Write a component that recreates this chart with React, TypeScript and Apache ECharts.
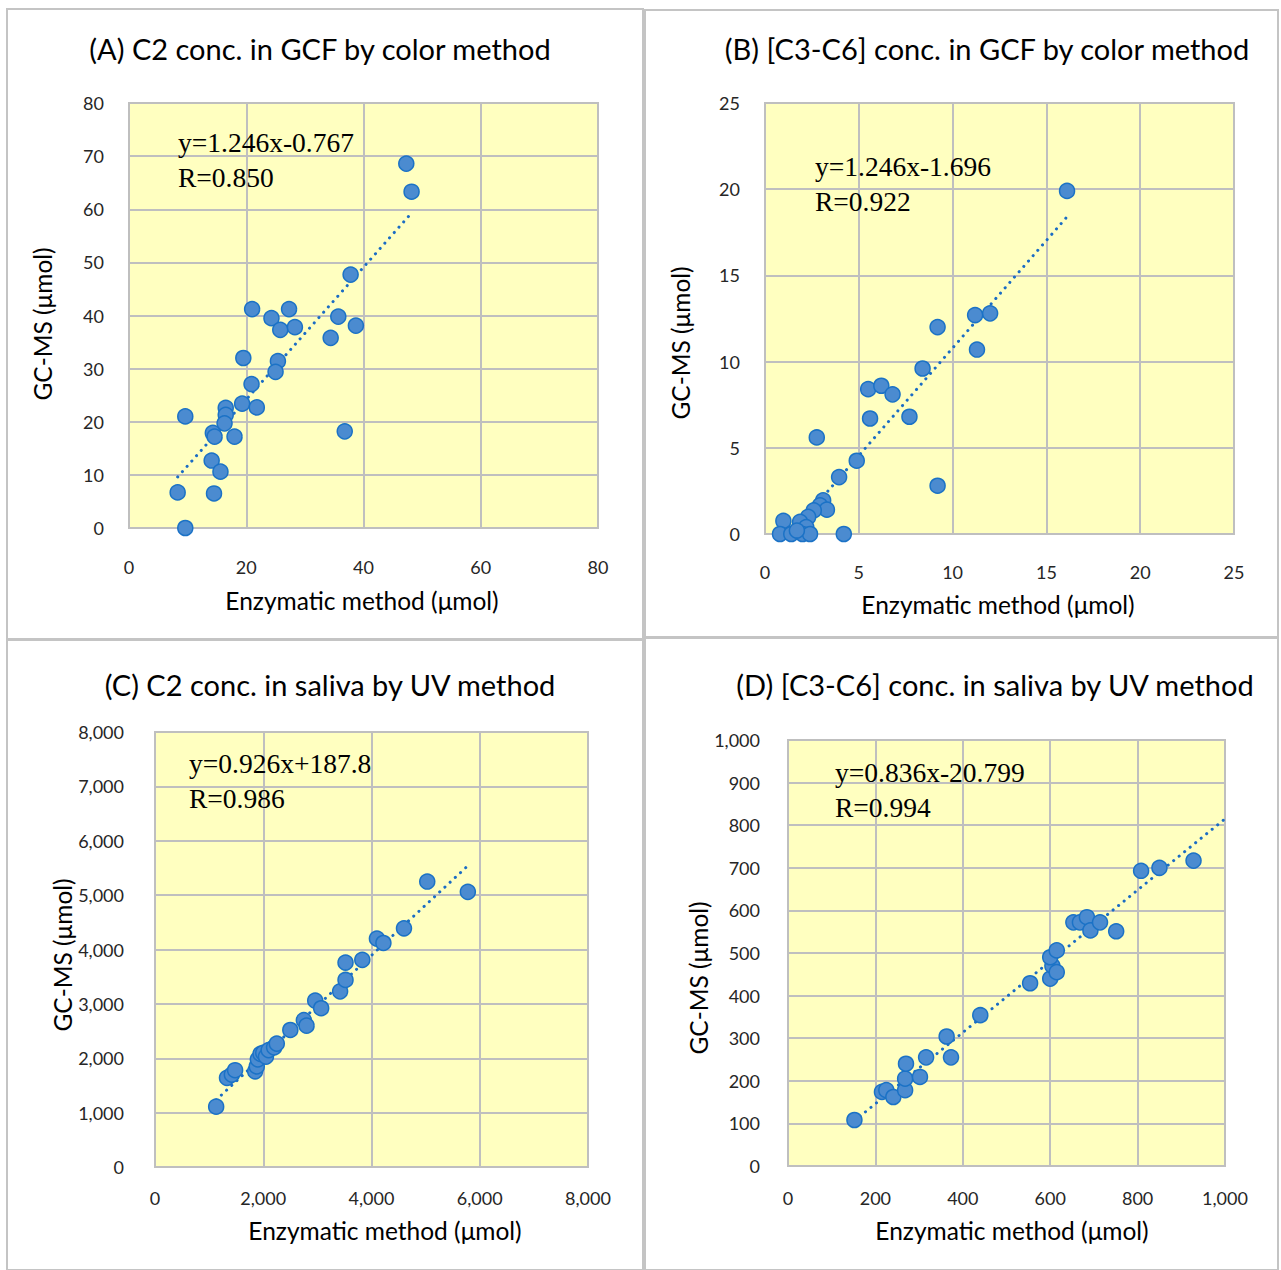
import React, { useEffect, useRef } from "react";
import * as echarts from "echarts";

// ---- Panel A: C2 conc. in GCF by color method ----
const aEnzymatic = [47.3, 48.2, 37.8, 21.0, 24.3, 27.3, 25.8, 28.3, 35.7, 38.7, 34.4, 19.5, 25.4, 25.0, 20.9, 19.3, 21.8, 16.5, 16.5, 16.3, 9.6, 14.3, 14.6, 18.0, 36.8, 14.1, 15.6, 8.3, 14.5, 9.6];
const aGcms = [68.6, 63.3, 47.7, 41.2, 39.5, 41.2, 37.3, 37.8, 39.8, 38.1, 35.8, 32.0, 31.4, 29.4, 27.1, 23.4, 22.7, 22.6, 21.3, 19.7, 21.0, 17.9, 17.2, 17.2, 18.2, 12.7, 10.6, 6.7, 6.5, 0];
const aTrend = [[8.3, 9.6], [48.2, 59.3]];

// ---- Panel B: [C3-C6] conc. in GCF by color method ----
const bEnzymatic = [16.1, 11.2, 12.0, 9.2, 11.3, 8.4, 5.5, 6.2, 6.8, 5.6, 7.7, 9.2, 2.76, 4.89, 3.95, 3.1, 2.93, 3.3, 2.6, 2.3, 1.87, 0.98, 2.2, 0.8, 1.4, 2.0, 2.4, 1.7, 4.2];
const bGcms = [19.9, 12.7, 12.8, 12.0, 10.7, 9.6, 8.4, 8.6, 8.1, 6.7, 6.8, 2.8, 5.6, 4.25, 3.3, 1.95, 1.66, 1.41, 1.37, 0.99, 0.7, 0.76, 0.4, 0, 0, 0, 0, 0.2, 0];
const bTrend = [[1.36, 0], [16.1, 18.4]];

// ---- Panel C: C2 conc. in saliva by UV method ----
const cEnzymatic = [1130, 1330, 1420, 1480, 1850, 1880, 1900, 1950, 2000, 2050, 2100, 2200, 2250, 2500, 2750, 2800, 2960, 3070, 3420, 3520, 3520, 3830, 4100, 4220, 4600, 5030, 5780];
const cGcms = [1110, 1640, 1700, 1780, 1760, 1850, 1980, 2080, 2100, 2030, 2150, 2200, 2270, 2520, 2700, 2600, 3060, 2920, 3230, 3440, 3760, 3810, 4200, 4120, 4390, 5250, 5060];
const cTrend = [[1130, 1234], [5780, 5540]];

// ---- Panel D: [C3-C6] conc. in saliva by UV method ----
const dEnzymatic = [152, 215, 225, 241, 268, 268, 270, 302, 316, 363, 373, 440, 554, 600, 605, 615, 600, 615, 653, 668, 684, 692, 714, 751, 808, 850, 928];
const dGcms = [108, 174, 178, 162, 178, 205, 240, 209, 255, 304, 255, 354, 429, 440, 470, 455, 490, 506, 572, 572, 584, 553, 572, 551, 693, 700, 717];
const dTrend = [[152, 106], [1000, 815]];

const titles = [
  "(A) C2 conc. in GCF by color method",
  "(B) [C3-C6] conc. in GCF by color method",
  "(C) C2 conc. in saliva by UV method",
  "(D) [C3-C6] conc. in saliva by UV method",
];
const equations = [
  ["y=1.246x-0.767", "R=0.850"],
  ["y=1.246x-1.696", "R=0.922"],
  ["y=0.926x+187.8", "R=0.986"],
  ["y=0.836x-20.799", "R=0.994"],
];
const xAxisName = "Enzymatic method (μmol)";
const yAxisName = "GC-MS (μmol)";

const SANS = "Lato, 'Open Sans', sans-serif";
const SERIF = "'Liberation Serif', 'DejaVu Serif', serif";
const GRID_COLOR = "#bfbfbf";
const MARK_FILL = "#4b8bd0";
const MARK_EDGE = "#1b72c6";
const TREND = "#1a6cc4";

const panels = [
  { grid: { left: 129, top: 103, width: 469, height: 425 }, x: [0, 80, 20], y: [0, 80, 10], xm: 30, ym: 25, fmt: false,
    title: [320, 48], xname: [362, 600], yname: [42, 324], eq: [178, 142],
    xs: aEnzymatic, ys: aGcms, tr: aTrend },
  { grid: { left: 765, top: 103, width: 469, height: 431 }, x: [0, 25, 5], y: [0, 25, 5], xm: 29, ym: 25, fmt: false,
    title: [987, 48], xname: [998, 604], yname: [680, 343], eq: [815, 166],
    xs: bEnzymatic, ys: bGcms, tr: bTrend },
  { grid: { left: 155, top: 732, width: 433, height: 435 }, x: [0, 8000, 2000], y: [0, 8000, 1000], xm: 22, ym: 31, fmt: true,
    title: [330, 684], xname: [385, 1230], yname: [62, 955], eq: [189, 763],
    xs: cEnzymatic, ys: cGcms, tr: cTrend },
  { grid: { left: 788, top: 740, width: 437, height: 426 }, x: [0, 1000, 200], y: [0, 1000, 100], xm: 23, ym: 28, fmt: true,
    title: [995, 684], xname: [1012, 1230], yname: [698, 978], eq: [835, 772],
    xs: dEnzymatic, ys: dGcms, tr: dTrend },
];

const fmtNum = (v: number) => v.toLocaleString("en-US");

export default function App() {
  const ref = useRef<HTMLDivElement>(null);
  useEffect(() => {
    if (!ref.current) return;
    const chart = echarts.init(ref.current, undefined, { renderer: "svg" });

    const grids: any[] = [];
    const xAxes: any[] = [];
    const yAxes: any[] = [];
    const series: any[] = [];
    const graphic: any[] = [];

    // panel borders
    const boxes = [
      [7, 9, 636, 630],
      [645, 10, 633, 627],
      [7, 640, 636, 630],
      [645, 638, 633, 632],
    ];
    boxes.forEach(([x, y, w, h]) => {
      graphic.push({ type: "rect", shape: { x, y, width: w, height: h }, style: { fill: "none", stroke: "#c4c4c4", lineWidth: 2 }, silent: true });
    });

    panels.forEach((p, i) => {
      grids.push({ ...p.grid, show: true, backgroundColor: "#ffffc0", borderColor: GRID_COLOR, borderWidth: 2 });
      const labelStyle = (m: number) => ({
        margin: m, color: "#262626", fontSize: 18, fontFamily: SANS,
        formatter: p.fmt ? (v: number) => fmtNum(v) : undefined,
      });
      xAxes.push({
        type: "value", gridIndex: i, min: p.x[0], max: p.x[1], interval: p.x[2],
        axisLine: { show: false }, axisTick: { show: false },
        axisLabel: labelStyle(p.xm),
        splitLine: { show: true, lineStyle: { color: GRID_COLOR, width: 2 } },
      });
      yAxes.push({
        type: "value", gridIndex: i, min: p.y[0], max: p.y[1], interval: p.y[2],
        axisLine: { show: false }, axisTick: { show: false },
        axisLabel: labelStyle(p.ym),
        splitLine: { show: true, lineStyle: { color: GRID_COLOR, width: 2 } },
      });
      series.push({
        type: "line", xAxisIndex: i, yAxisIndex: i, data: p.tr, symbol: "none", clip: true,
        lineStyle: { color: TREND, width: 3, type: [0.1, 7], cap: "round" }, z: 3,
      });
      series.push({
        type: "scatter", xAxisIndex: i, yAxisIndex: i,
        data: p.xs.map((x, k) => [x, p.ys[k]]),
        symbolSize: 15,
        itemStyle: { color: MARK_FILL, borderColor: MARK_EDGE, borderWidth: 1.5, opacity: 1 },
        z: 4,
      });
      graphic.push({
        type: "text", x: p.title[0], y: p.title[1],
        style: { text: titles[i], fontSize: 29, fontFamily: SANS, fill: "#000", align: "center", verticalAlign: "middle" },
      });
      graphic.push({
        type: "text", x: p.xname[0], y: p.xname[1],
        style: { text: xAxisName, fontSize: 24.5, fontFamily: SANS, fill: "#000", align: "center", verticalAlign: "middle" },
      });
      graphic.push({
        type: "text", x: p.yname[0], y: p.yname[1], rotation: Math.PI / 2,
        style: { text: yAxisName, fontSize: 24.5, fontFamily: SANS, fill: "#000", align: "center", verticalAlign: "middle" },
      });
      equations[i].forEach((t, k) => {
        graphic.push({
          type: "text", x: p.eq[0], y: p.eq[1] + k * 35, z: 10,
          style: { text: t, fontSize: 27.5, fontFamily: SERIF, fill: "#000", align: "left", verticalAlign: "middle" },
        });
      });
    });

    chart.setOption({
      animation: false,
      backgroundColor: "#ffffff",
      grid: grids,
      xAxis: xAxes,
      yAxis: yAxes,
      series,
      graphic,
    });
    return () => chart.dispose();
  }, []);

  return (
    <div
      ref={ref}
      style={{ position: "absolute", left: 0, top: 0, width: 1281, height: 1270 }}
    />
  );
}
